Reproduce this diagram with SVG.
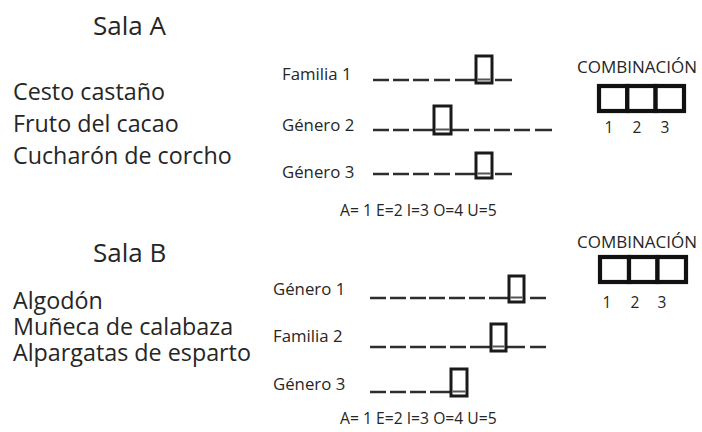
<svg xmlns="http://www.w3.org/2000/svg" width="702" height="432" viewBox="0 0 702 432">
  <style>
    text { font-family: "Open Sans", "Noto Sans", sans-serif; fill: #262626; }
    .title { font-size: 26px; }
    .item { font-size: 23.3px; }
    .lbl { font-size: 16.8px; }
    .key { font-size: 15.7px; }
    .combo { font-size: 17px; }
    .num { font-size: 15.5px; text-anchor: middle; }
    .dash { fill: none; stroke: #2e2e2e; stroke-width: 2.6; }
    .slot { fill: #fff; stroke: #1a1a1a; stroke-width: 3; }
    .slotline { stroke: #555; stroke-width: 2; }
    .cell { fill: #fff; stroke: #111; stroke-width: 4.2; }
  </style>

  <!-- Sala A -->
  <g id="sala-a">
    <text class="title" x="93" y="35">Sala A</text>
    <text class="item" x="13" y="100">Cesto castaño</text>
    <text class="item" x="13" y="132">Fruto del cacao</text>
    <text class="item" x="13" y="164">Cucharón de corcho</text>
  </g>

  <g id="a-familia-1">
    <text class="lbl" x="282" y="80">Familia 1</text>
    <path class="dash" d="M373 80h16M393 80h16M413 80h16M434 80h16M455 80h20M495 80h17"/>
    <rect class="slot" x="476" y="56" width="16" height="27"/>
    <line class="slotline" x1="477.5" y1="79.5" x2="490.5" y2="79.5"/>
  </g>

  <g id="a-genero-2">
    <text class="lbl" x="282" y="131">Género 2</text>
    <path class="dash" d="M373 130h16M393 130h16M413 130h21M451 130h18M474 130h16M494 130h16M514 130h16M535 130h17"/>
    <rect class="slot" x="434" y="106" width="17" height="28"/>
    <line class="slotline" x1="435.5" y1="129.5" x2="449.5" y2="129.5"/>
  </g>

  <g id="a-genero-3">
    <text class="lbl" x="282" y="178">Género 3</text>
    <path class="dash" d="M373 174h16M393 174h16M413 174h16M434 174h16M455 174h20M495 174h17"/>
    <rect class="slot" x="476" y="153" width="16" height="25"/>
    <line class="slotline" x1="477.5" y1="173.5" x2="490.5" y2="173.5"/>
  </g>

  <g id="a-clave">
    <text class="key" x="340" y="216">A= 1 E=2 I=3 O=4 U=5</text>
  </g>

  <g id="a-combinacion">
    <text class="combo" x="577" y="73">COMBINACIÓN</text>
    <rect class="cell" x="599" y="86" width="28.3" height="25"/>
    <rect class="cell" x="627.3" y="86" width="28.3" height="25"/>
    <rect class="cell" x="655.6" y="86" width="28.4" height="25"/>
    <text class="num" x="609" y="133">1</text>
    <text class="num" x="637" y="133">2</text>
    <text class="num" x="665" y="133">3</text>
  </g>

  <!-- Sala B -->
  <g id="sala-b">
    <text class="title" x="93" y="262">Sala B</text>
    <text class="item" x="13" y="309">Algodón</text>
    <text class="item" x="13" y="335">Muñeca de calabaza</text>
    <text class="item" x="13" y="361">Alpargatas de esparto</text>
  </g>

  <g id="b-genero-1">
    <text class="lbl" x="273" y="295">Género 1</text>
    <path class="dash" d="M370 298h16M390 298h16M410 298h16M429 298h16M449 298h16M469 298h16M489 298h20M530 298h16"/>
    <rect class="slot" x="509" y="276" width="15" height="26"/>
    <line class="slotline" x1="510.5" y1="297.5" x2="522.5" y2="297.5"/>
  </g>

  <g id="b-familia-2">
    <text class="lbl" x="273" y="342">Familia 2</text>
    <path class="dash" d="M370 347h16M390 347h16M410 347h16M430 347h16M450 347h16M470 347h21M506 347h19M530 347h16"/>
    <rect class="slot" x="491" y="324" width="15" height="27"/>
    <line class="slotline" x1="492.5" y1="346.5" x2="504.5" y2="346.5"/>
  </g>

  <g id="b-genero-3">
    <text class="lbl" x="273" y="390">Género 3</text>
    <path class="dash" d="M370 392h16M390 392h16M410 392h16M430 392h21"/>
    <rect class="slot" x="451" y="369" width="16" height="27"/>
    <line class="slotline" x1="452.5" y1="391.5" x2="465.5" y2="391.5"/>
  </g>

  <g id="b-clave">
    <text class="key" x="340" y="424">A= 1 E=2 I=3 O=4 U=5</text>
  </g>

  <g id="b-combinacion">
    <text class="combo" x="577" y="248">COMBINACIÓN</text>
    <rect class="cell" x="600" y="257" width="29" height="25"/>
    <rect class="cell" x="629" y="257" width="28.5" height="25"/>
    <rect class="cell" x="657.5" y="257" width="28.5" height="25"/>
    <text class="num" x="607" y="308">1</text>
    <text class="num" x="635" y="308">2</text>
    <text class="num" x="662" y="308">3</text>
  </g>
</svg>
